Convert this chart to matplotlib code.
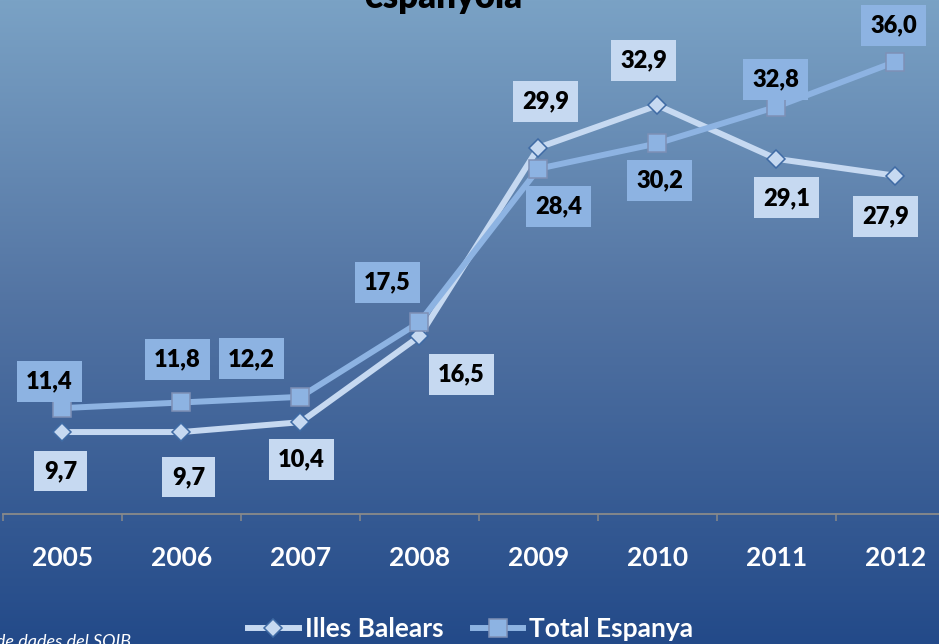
#!/usr/bin/env python3
"""
Line chart: Illes Balears vs Total Espanya, 2005-2012.
"""

import matplotlib
matplotlib.use('Agg')
import matplotlib.pyplot as plt
from matplotlib.colors import LinearSegmentedColormap
import numpy as np

# Data
years = ['2005', '2006', '2007', '2008', '2009', '2010', '2011', '2012']
balears = [9.7, 9.7, 10.4, 16.5, 29.9, 32.9, 29.1, 27.9]
espanya = [11.4, 11.8, 12.2, 17.5, 28.4, 30.2, 32.8, 36.0]

# Label offsets in pixels (dx right, dy down)
bal_off = [(-2, 39), (7, 45), (1, 37), (42, 38), (7, -46), (-14, -45), (10, 39), (-10, 41)]
esp_off = [(-13, -27), (-4, -43), (-49, -38), (-32, -40), (20, 38), (2, 37), (-1, -27), (-2, -36)]

BAL_COLOR = '#c6d9f1'
ESP_COLOR = '#8db3e2'
FONT = ['Lato', 'DejaVu Sans']

plt.rcParams.update({
    'font.family': FONT,
    'font.weight': 'bold',
})

W, H, DPI = 939, 644, 100
fig = plt.figure(figsize=(W / DPI, H / DPI), dpi=DPI)

# Background gradient
bg = fig.add_axes([0, 0, 1, 1], zorder=-10)
cmap = LinearSegmentedColormap.from_list(
    'bg', [(0.0, '#7aa2c5'), (0.466, '#5374a3'), (1.0, '#234a89')])
grad = np.linspace(0, 1, 256).reshape(-1, 1)
bg.imshow(grad, aspect='auto', cmap=cmap, extent=[0, 1, 0, 1], origin='upper')
bg.set_axis_off()

# Main axes (extends slightly beyond the right edge, like the source)
left_px, right_px, bottom_px = 3, 955, 514
ax = fig.add_axes([left_px / W, 1 - bottom_px / H, (right_px - left_px) / W, bottom_px / H])
ax.patch.set_alpha(0)

x = np.arange(len(years))
ax.plot(x, balears, '-', color=BAL_COLOR, lw=4.3, marker='D', ms=9,
        mfc=BAL_COLOR, mec='#3f6ba5', mew=1.1, label='Illes Balears', zorder=3,
        clip_on=False)
ax.plot(x, espanya, '-', color=ESP_COLOR, lw=4.3, marker='s', ms=12.5,
        mfc=ESP_COLOR, mec='#7e90b6', mew=1.1, label='Total Espanya', zorder=4,
        clip_on=False)

px2pt = 72 / DPI


def fmt(v):
    return f'{v:.1f}'.replace('.', ',')


for xi, v, (dx, dy) in zip(x, balears, bal_off):
    ax.annotate(fmt(v), xy=(xi, v), xytext=(dx * px2pt, -dy * px2pt),
                textcoords='offset points', ha='center', va='center',
                fontsize=17, fontweight='heavy', color='black', zorder=6,
                bbox=dict(boxstyle='square,pad=0.4', facecolor=BAL_COLOR,
                          edgecolor='none'))

for xi, v, (dx, dy) in zip(x, espanya, esp_off):
    ax.annotate(fmt(v), xy=(xi, v), xytext=(dx * px2pt, -dy * px2pt),
                textcoords='offset points', ha='center', va='center',
                fontsize=17, fontweight='heavy', color='black', zorder=6,
                bbox=dict(boxstyle='square,pad=0.4', facecolor=ESP_COLOR,
                          edgecolor='none'))

ax.set_xlim(-0.5, len(years) - 0.5)
ax.set_ylim(3.88, 40.38)

for s in ['top', 'right', 'left']:
    ax.spines[s].set_visible(False)
ax.spines['bottom'].set_color('#8a8a8a')
ax.spines['bottom'].set_linewidth(1.3)

ax.set_yticks([])
ax.set_xticks(x)
ax.set_xticklabels(years, fontsize=19, fontweight='bold', color='white')
ax.tick_params(axis='x', which='major', length=0, pad=23)
ax.set_xticks(np.arange(-0.5, len(years) + 0.5, 1), minor=True)
ax.tick_params(axis='x', which='minor', length=5, width=1.1, color='#8a8a8a')

# Title (cropped at the top in the source)
fig.text(443 / W, 1 - 8 / H, 'espanyola', ha='center', va='baseline',
         fontsize=25, fontweight='heavy', color='black')

# Source note (cropped at the left in the source)
fig.text(131 / W, -3 / H, 'Font: elaboració pròpia a partir de dades del SOIB',
         ha='right', va='baseline', fontsize=13, fontweight='normal',
         style='italic', color='white')

# Legend
leg = fig.legend(loc='center', bbox_to_anchor=(471 / W, 1 - 629 / H), ncol=2,
                 frameon=False, fontsize=19, handlelength=1.9, handletextpad=0.25,
                 columnspacing=1.1, borderaxespad=0)
for t in leg.get_texts():
    t.set_color('white')
    t.set_fontweight('bold')

fig.savefig('out.png', dpi=DPI)
